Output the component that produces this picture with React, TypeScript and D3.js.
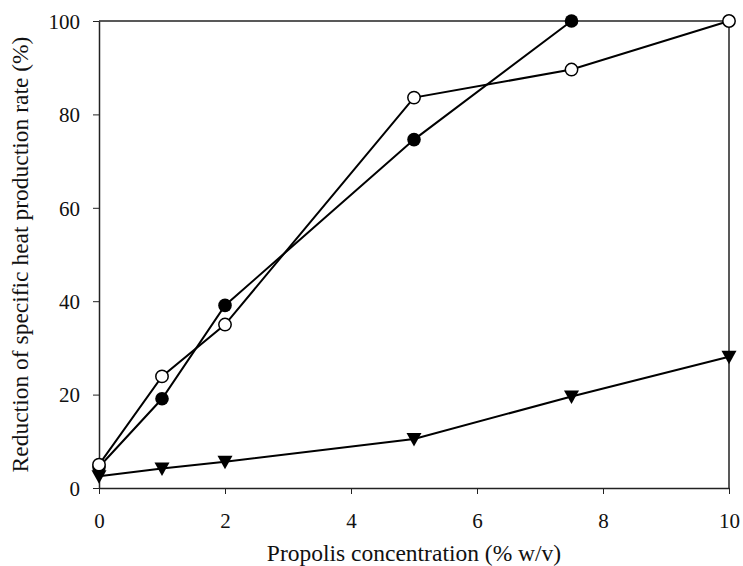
import { useRef, useEffect } from "react";
import * as d3 from "d3";

// Propolis concentration (% w/v)
const concentration = [0, 1, 2, 5, 7.5, 10];
// Reduction of specific heat production rate (%)
const filledCircles = [4.5, 19.1, 39.1, 74.6, 100];
const openCircles = [5.0, 23.9, 35.0, 83.6, 89.6, 100];
const triangles = [2.5, 4.2, 5.6, 10.5, 19.6, 28.1];
const xTicks = [0, 2, 4, 6, 8, 10];
const yTicks = [0, 20, 40, 60, 80, 100];

type Pt = { x: number; y: number };
const toPoints = (vals: number[]): Pt[] =>
  vals.map((v, i) => ({ x: concentration[i], y: v }));

export default function App() {
  const svgRef = useRef<SVGSVGElement>(null);

  useEffect(() => {
    const svg = d3.select(svgRef.current);
    const width = 743;
    const height = 566;
    const margin = { top: 21, right: 14, bottom: 78, left: 99 };
    const innerWidth = width - margin.left - margin.right;
    const innerHeight = height - margin.top - margin.bottom;

    svg.selectAll("*").remove();
    svg.attr("width", width).attr("height", height);

    const g = svg
      .append("g")
      .attr("transform", `translate(${margin.left},${margin.top})`);

    const xScale = d3.scaleLinear().domain([0, 10]).range([0, innerWidth]);
    const yScale = d3.scaleLinear().domain([0, 100]).range([innerHeight, 0]);

    const font = "'Liberation Serif', 'Times New Roman', serif";

    // frame (top + right)
    g.append("line")
      .attr("x1", 0)
      .attr("x2", innerWidth)
      .attr("y1", 0)
      .attr("y2", 0)
      .attr("stroke", "#222")
      .attr("stroke-width", 1.5);
    g.append("line")
      .attr("x1", innerWidth)
      .attr("x2", innerWidth)
      .attr("y1", 0)
      .attr("y2", innerHeight)
      .attr("stroke", "#222")
      .attr("stroke-width", 1.5);

    // axes
    const xAxis = g
      .append("g")
      .attr("transform", `translate(0,${innerHeight})`)
      .call(
        d3.axisBottom(xScale).tickValues(xTicks).tickSize(6).tickSizeOuter(0)
      );
    const yAxis = g
      .append("g")
      .call(d3.axisLeft(yScale).tickValues(yTicks).tickSize(6).tickSizeOuter(0));

    [xAxis, yAxis].forEach((ax) => {
      ax.select(".domain").attr("stroke", "#222").attr("stroke-width", 1.5);
      ax.selectAll(".tick line").attr("stroke", "#222").attr("stroke-width", 1);
      ax.selectAll(".tick text")
        .attr("font-family", font)
        .attr("font-size", 21)
        .attr("fill", "#111");
    });
    xAxis.selectAll(".tick text").attr("dy", "0").attr("y", 40);
    yAxis.selectAll(".tick text").attr("x", -19).attr("dy", "0.35em");

    // lines
    const line = d3
      .line<Pt>()
      .x((d) => xScale(d.x))
      .y((d) => yScale(d.y));

    [filledCircles, openCircles, triangles].forEach((s) => {
      g.append("path")
        .datum(toPoints(s))
        .attr("d", line)
        .attr("fill", "none")
        .attr("stroke", "#000")
        .attr("stroke-width", 2);
    });

    // markers
    g.selectAll(".tri")
      .data(toPoints(triangles))
      .enter()
      .append("path")
      .attr("class", "tri")
      .attr("transform", (d) => `translate(${xScale(d.x)},${yScale(d.y)})`)
      .attr("d", "M-7.5,-6L7.5,-6L0,7.5Z")
      .attr("fill", "#000");

    g.selectAll(".filled")
      .data(toPoints(filledCircles))
      .enter()
      .append("circle")
      .attr("class", "filled")
      .attr("cx", (d) => xScale(d.x))
      .attr("cy", (d) => yScale(d.y))
      .attr("r", 6.8)
      .attr("fill", "#000");

    g.selectAll(".open")
      .data(toPoints(openCircles))
      .enter()
      .append("circle")
      .attr("class", "open")
      .attr("cx", (d) => xScale(d.x))
      .attr("cy", (d) => yScale(d.y))
      .attr("r", 6.2)
      .attr("fill", "#fff")
      .attr("stroke", "#000")
      .attr("stroke-width", 1.5);

    // axis titles
    g.append("text")
      .attr("x", innerWidth / 2)
      .attr("y", innerHeight + 73)
      .attr("text-anchor", "middle")
      .attr("font-family", font)
      .attr("font-size", 23.5)
      .attr("fill", "#111")
      .text("Propolis concentration (% w/v)");

    g.append("text")
      .attr("transform", "rotate(-90)")
      .attr("x", -innerHeight / 2)
      .attr("y", -71)
      .attr("text-anchor", "middle")
      .attr("font-family", font)
      .attr("font-size", 23.5)
      .attr("fill", "#111")
      .text("Reduction of specific heat production rate (%)");
  }, []);

  return (
    <svg
      ref={svgRef}
      style={{ position: "absolute", left: 0, top: 0, background: "#fff" }}
    ></svg>
  );
}
